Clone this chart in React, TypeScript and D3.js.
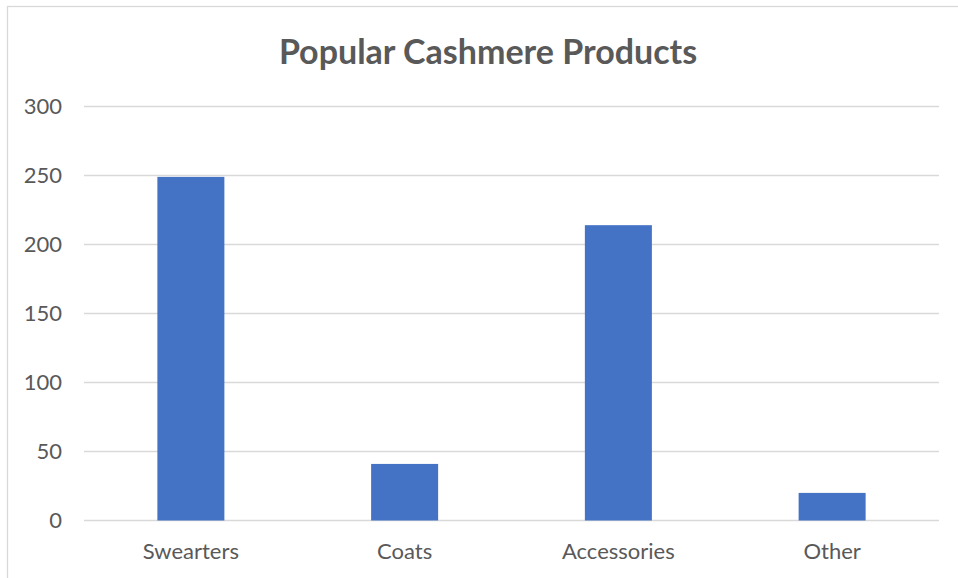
import React from "react";
import * as d3 from "d3";

const title = "Popular Cashmere Products";
const categories = ["Swearters", "Coats", "Accessories", "Other"];
const values = [249, 41, 214, 20];
const yTicks = [0, 50, 100, 150, 200, 250, 300];

const W = 958;
const H = 578;
const plot = { left: 84, right: 939, top: 106.5, bottom: 520.5 };
const FONT = "Lato, 'Open Sans', sans-serif";
const TEXT = "#595959";
const GRID = "#d9d9d9";
const BAR = "#4472C4";

export default function App() {
  const x = d3
    .scaleBand<string>()
    .domain(categories)
    .range([plot.left, plot.right])
    .paddingInner(0.6865)
    .paddingOuter(0.6865 / 2);
  const y = d3.scaleLinear().domain([0, 300]).range([plot.bottom, plot.top]);

  return (
    <svg
      width={W}
      height={H}
      style={{ position: "absolute", left: 0, top: 0, background: "#fff" }}
    >
      <rect x={0} y={0} width={W} height={H} fill="#fff" />
      <rect x={7.5} y={6.5} width={W + 20} height={H + 20} fill="#fff" stroke={GRID} strokeWidth={1.3} />
      <text
        x={488}
        y={63.5}
        textAnchor="middle"
        fontFamily={FONT}
        fontWeight={700}
        fontSize={34}
        fill={TEXT}
      >
        {title}
      </text>
      {yTicks.map((t) => (
        <g key={t}>
          <line
            x1={plot.left}
            x2={plot.right}
            y1={y(t)}
            y2={y(t)}
            stroke={GRID}
            strokeWidth={1.3}
          />
          <text
            x={62}
            y={y(t)}
            dy="0.36em"
            textAnchor="end"
            fontFamily={FONT}
            fontSize={22}
            fill={TEXT}
          >
            {t}
          </text>
        </g>
      ))}
      {categories.map((c, i) => (
        <g key={c}>
          <rect
            x={x(c)}
            y={y(values[i])}
            width={x.bandwidth()}
            height={y(0) - y(values[i])}
            fill={BAR}
          />
          <text
            x={(x(c) as number) + x.bandwidth() / 2}
            y={559}
            textAnchor="middle"
            fontFamily={FONT}
            fontSize={22}
            fill={TEXT}
          >
            {c}
          </text>
        </g>
      ))}
    </svg>
  );
}
